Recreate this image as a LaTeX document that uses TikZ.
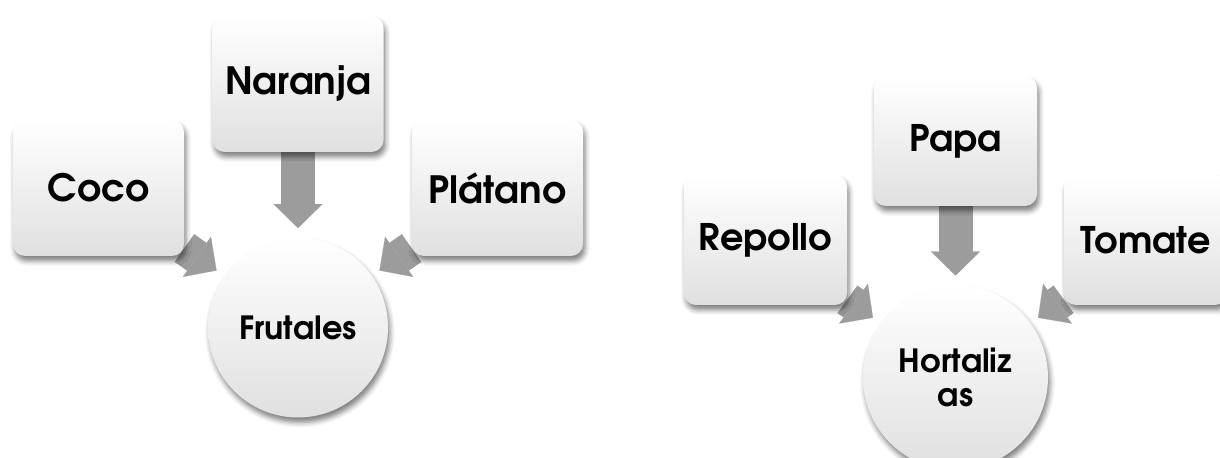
\documentclass[tikz,border=0pt]{standalone}
\usepackage{fontspec}
\setmainfont{texgyreadventor}[Extension=.otf, UprightFont=*-regular, BoldFont=*-bold, ItalicFont=*-italic, BoldItalicFont=*-bolditalic]
\usetikzlibrary{arrows.meta,shadows.blur}
\definecolor{arr}{RGB}{156,156,156}
\definecolor{shadeb}{RGB}{224,224,224}
\pgfdeclarelayer{bg}
\pgfsetlayers{bg,main}
\begin{document}
\begin{tikzpicture}[x=0.5pt,y=-0.5pt,
  shadowed/.style={blur shadow={shadow xshift=1pt, shadow yshift=-2.5pt, shadow blur radius=2.5pt, shadow opacity=50}},
  boxL/.style={shadowed, rounded corners=6pt, minimum width=85.5pt, minimum height=68pt, inner sep=0pt,
    top color=white, middle color=white, bottom color=shadeb, font=\bfseries\fontsize{18.8}{22}\selectfont},
  boxR/.style={boxL, minimum width=81.5pt, minimum height=65pt, font=\bfseries\fontsize{18.3}{22}\selectfont},
  hub/.style={shadowed, circle, inner sep=0pt, top color=white, middle color=white, bottom color=shadeb, align=center},
  blk/.style={line width=17pt, draw=arr, -{Triangle[length=12pt, width=24.5pt, line width=0.1pt]}, shorten >=4.5pt}]
\useasboundingbox (0,0) rectangle (1220,458);
\clip (0,0) rectangle (1220,458);
% left diagram
\node[boxL] (coco) at (98.5,188) {Coco};
\node[boxL] (nar) at (298,84) {Naranja};
\node[boxL] (pla) at (497.5,188) {Plátano};
\node[hub, minimum size=90pt, font=\bfseries\fontsize{16}{19}\selectfont] (frut) at (298,327.5) {Frutales};
% right diagram
\node[boxR] (rep) at (765.5,240) {Repollo};
\node[boxR] (papa) at (955.5,141) {Papa};
\node[boxR] (tom) at (1145.5,240) {Tomate};
\node[hub, minimum size=92.5pt, font=\bfseries\fontsize{16}{17}\selectfont] (hort) at (955.5,377.5) {Hortaliz\\as};
\begin{pgfonlayer}{bg}
\draw[blk] (coco) -- (frut);
\draw[blk] (nar) -- (frut);
\draw[blk] (pla) -- (frut);
\draw[blk] (rep) -- (hort);
\draw[blk] (papa) -- (hort);
\draw[blk] (tom) -- (hort);
\end{pgfonlayer}
\end{tikzpicture}
\end{document}
